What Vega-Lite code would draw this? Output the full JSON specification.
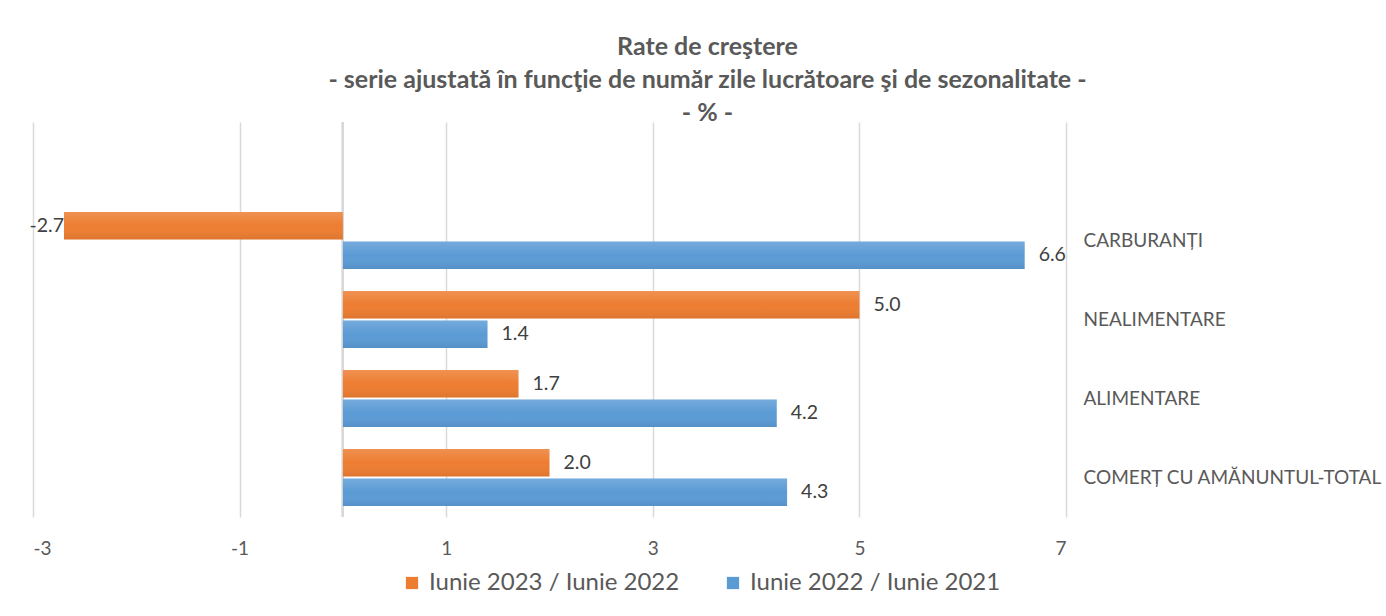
{
  "$schema": "https://vega.github.io/schema/vega-lite/v6.json",
  "width": 1033,
  "height": 395,
  "autosize": {"type": "none"},
  "padding": {"left": 33, "top": 122, "right": 320, "bottom": 99},
  "background": "white",
  "config": {
    "font": "Lato",
    "view": {"stroke": null},
    "locale": {"number": {"decimal": ".", "thousands": ",", "grouping": [3], "currency": ["", ""], "minus": "-"}}
  },
  "title": {
    "text": ["Rate de creştere", "- serie ajustată în funcţie de număr zile lucrătoare şi de sezonalitate -", "- % -"],
    "fontSize": 25,
    "fontWeight": "bold",
    "color": "#595959",
    "lineHeight": 33,
    "anchor": "middle",
    "frame": "group",
    "dx": 158,
    "offset": -5
  },
  "data": {
    "values": [
      {"cat": "CARBURANȚI", "series": "Iunie 2023 / Iunie 2022", "value": -2.7},
      {"cat": "CARBURANȚI", "series": "Iunie 2022 / Iunie 2021", "value": 6.6},
      {"cat": "NEALIMENTARE", "series": "Iunie 2023 / Iunie 2022", "value": 5.0},
      {"cat": "NEALIMENTARE", "series": "Iunie 2022 / Iunie 2021", "value": 1.4},
      {"cat": "ALIMENTARE", "series": "Iunie 2023 / Iunie 2022", "value": 1.7},
      {"cat": "ALIMENTARE", "series": "Iunie 2022 / Iunie 2021", "value": 4.2},
      {"cat": "COMERȚ CU AMĂNUNTUL-TOTAL", "series": "Iunie 2023 / Iunie 2022", "value": 2.0},
      {"cat": "COMERȚ CU AMĂNUNTUL-TOTAL", "series": "Iunie 2022 / Iunie 2021", "value": 4.3}
    ]
  },
  "encoding": {
    "y": {
      "field": "cat",
      "type": "nominal",
      "scale": {
        "domain": [" ", "CARBURANȚI", "NEALIMENTARE", "ALIMENTARE", "COMERȚ CU AMĂNUNTUL-TOTAL"],
        "paddingInner": 0.28,
        "paddingOuter": 0.14
      },
      "axis": {
        "orient": "right",
        "title": null,
        "domain": false,
        "ticks": false,
        "labelAlign": "left",
        "labelPadding": 17,
        "labelFontSize": 19,
        "labelColor": "#595959",
        "labelLimit": 400
      }
    },
    "yOffset": {
      "field": "series",
      "type": "nominal",
      "sort": ["Iunie 2023 / Iunie 2022", "Iunie 2022 / Iunie 2021"],
      "scale": {"paddingInner": 0.06}
    }
  },
  "layer": [
    {
      "mark": {"type": "rule", "color": "#d9d9d9", "strokeWidth": 2},
      "encoding": {"x": {"datum": 0, "type": "quantitative"}, "y": null, "yOffset": null}
    },
    {
      "mark": {"type": "bar"},
      "encoding": {
        "x": {
          "field": "value",
          "type": "quantitative",
          "scale": {"domain": [-3, 7], "nice": false, "zero": false},
          "axis": {
            "values": [-3, -1, 1, 3, 5, 7],
            "title": null,
            "domain": false,
            "ticks": false,
            "grid": true,
            "gridColor": "#d9d9d9",
            "gridWidth": 1.5,
            "labelFontSize": 19,
            "labelColor": "#595959",
            "labelPadding": 22,
            "format": "d"
          }
        },
        "color": {
          "field": "series",
          "type": "nominal",
          "sort": ["Iunie 2023 / Iunie 2022", "Iunie 2022 / Iunie 2021"],
          "scale": {
            "domain": ["Iunie 2023 / Iunie 2022", "Iunie 2022 / Iunie 2021"],
            "range": ["#ED7D31", "#5B9BD5"]
          },
          "legend": {
            "title": null,
            "orient": "none",
            "direction": "horizontal",
            "legendX": 367,
            "legendY": 449,
            "symbolType": "square",
            "symbolSize": 150,
            "symbolStrokeWidth": 0,
            "labelFontSize": 24,
            "labelColor": "#595959",
            "labelOffset": 5,
            "columnPadding": 41,
            "labelLimit": 400
          }
        }
      }
    },
    {
      "mark": {
        "type": "bar",
        "fill": {
          "gradient": "linear",
          "x1": 0, "y1": 0, "x2": 0, "y2": 1,
          "stops": [
            {"offset": 0, "color": "rgba(255,255,255,0.16)"},
            {"offset": 0.5, "color": "rgba(255,255,255,0)"},
            {"offset": 1, "color": "rgba(0,0,0,0.07)"}
          ]
        }
      },
      "encoding": {
        "x": {"field": "value", "type": "quantitative"}
      }
    },
    {
      "transform": [{"filter": "datum.value >= 0"}],
      "mark": {"type": "text", "align": "left", "baseline": "middle", "dx": 14, "fontSize": 19.5, "color": "#404040"},
      "encoding": {
        "x": {"field": "value", "type": "quantitative"},
        "text": {"field": "value", "type": "quantitative", "format": ".1f"}
      }
    },
    {
      "transform": [{"filter": "datum.value < 0"}],
      "mark": {"type": "text", "align": "right", "baseline": "middle", "dx": 0, "fontSize": 19.5, "color": "#404040"},
      "encoding": {
        "x": {"field": "value", "type": "quantitative"},
        "text": {"field": "value", "type": "quantitative", "format": ".1f"}
      }
    }
  ]
}
